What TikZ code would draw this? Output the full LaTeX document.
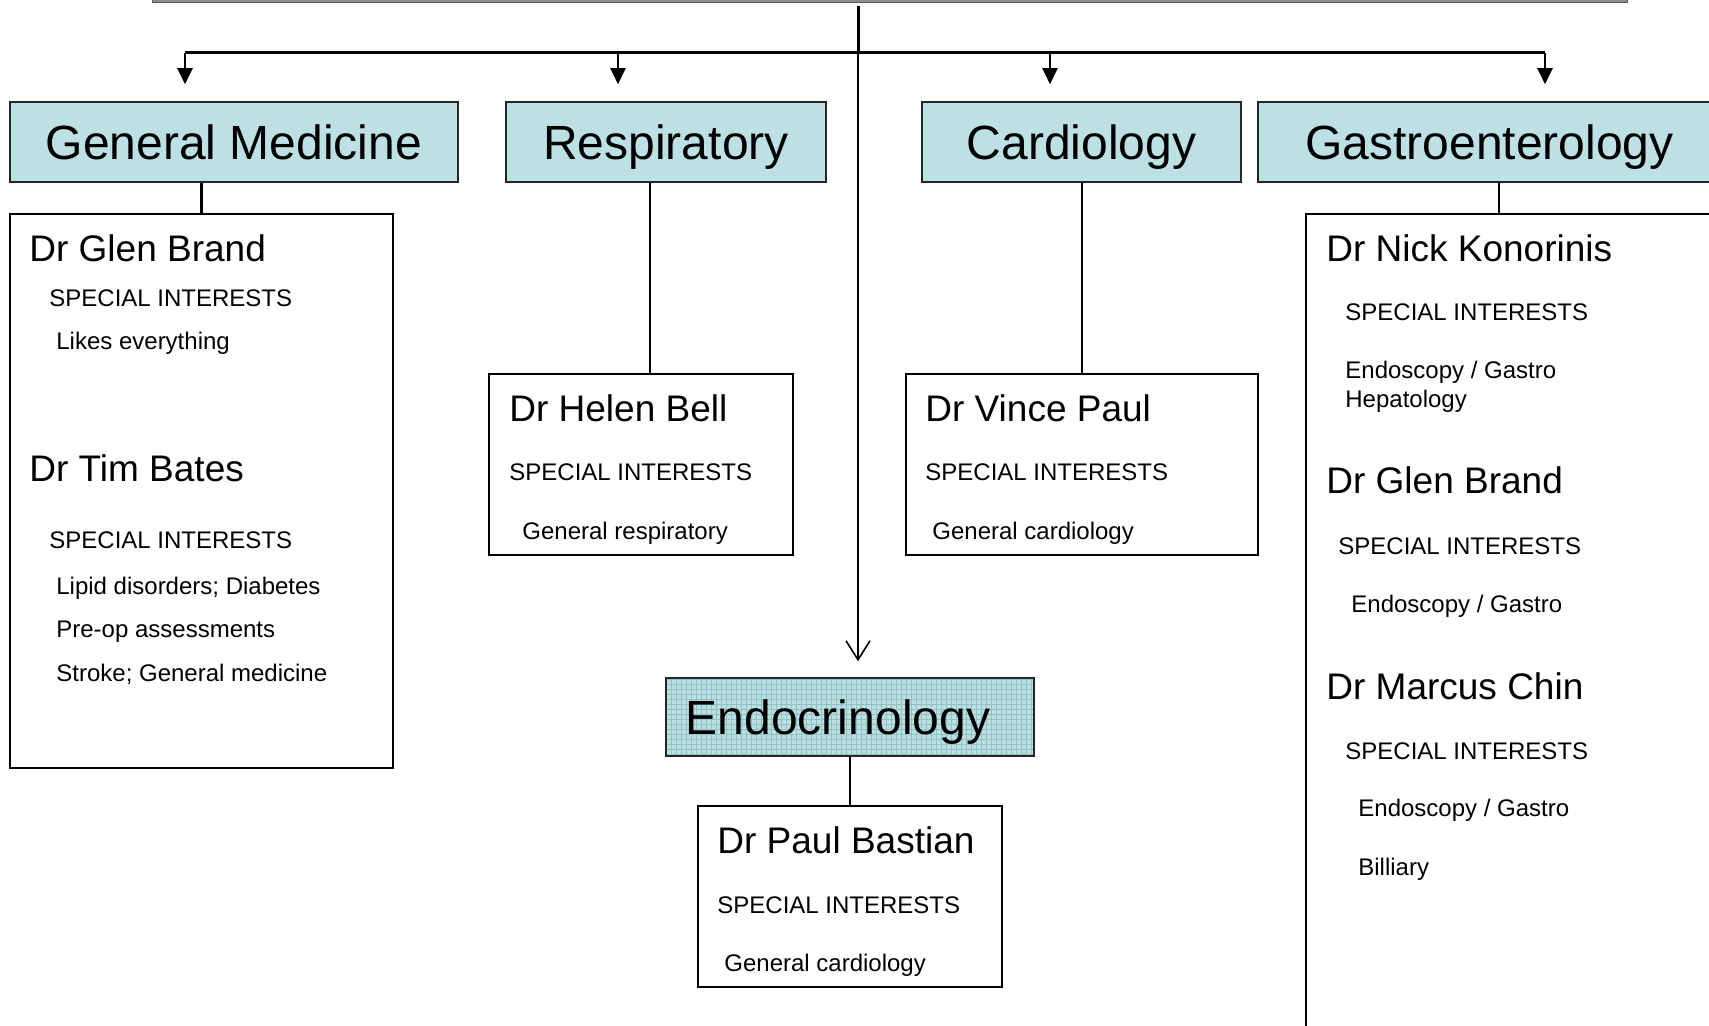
\documentclass[tikz,border=0pt]{standalone}
\usepackage{fontspec}
\setmainfont{Liberation Sans}
\usetikzlibrary{arrows.meta}
\definecolor{hdrfill}{HTML}{BCE0E3}
\definecolor{endofill}{HTML}{BDDFE2}
\definecolor{endogrid}{HTML}{8EC2C7}
\definecolor{topgray}{HTML}{8C8C8C}
\tikzset{
  hdr/.style={draw=black!85, line width=0.75pt, fill=hdrfill, inner sep=0pt,
    font=\fontsize{24}{28}\selectfont, text height=17.2pt, text depth=0pt},
  docbox/.style={draw=black, line width=1pt, inner sep=0pt},
  docname/.style={anchor=base west, inner sep=0pt, font=\fontsize{18.5}{22}\selectfont},
  small/.style={anchor=base west, inner sep=0pt, font=\fontsize{12}{14}\selectfont},
  bus/.style={line width=1.5pt},
  link/.style={line width=1.4pt},
  droparrow/.style={line width=1pt, -{Triangle[width=7.5pt,length=8pt]}, shorten >=8.5pt},
}
\begin{document}
\begin{tikzpicture}[x=0.5pt,y=-0.5pt]
\useasboundingbox (0,0) rectangle (1709,1026);
\clip (0,0) rectangle (1709,1026);
% top bar
\fill[topgray, draw=black!65, line width=0.4pt] (152,-4) rectangle (1627,2.5);

% headers
\node[hdr, minimum width=224pt, minimum height=40pt] (gm) at (234,142) {General Medicine};
\node[hdr, minimum width=160pt, minimum height=40pt] (resp) at (666,142) {Respiratory};
\node[hdr, minimum width=159.5pt, minimum height=40pt] (card) at (1081.5,142) {Cardiology};
\node[hdr, minimum width=231.5pt, minimum height=40pt] (gastro) at (1489.5,142) {Gastroenterology};
\node[hdr, minimum width=184pt, minimum height=39pt,
  path picture={
    \fill[endofill] (path picture bounding box.south west) rectangle (path picture bounding box.north east);
    \draw[endogrid, line width=0.3pt, step=2.5pt] (path picture bounding box.south west) grid (path picture bounding box.north east);
  }] (endo) at (850,717) {Endocrinology\hspace*{12pt}};

% doctor boxes
\node[docbox, minimum width=191.5pt, minimum height=277pt] (gmdoc) at (201.5,491) {};
\node[docbox, minimum width=152pt, minimum height=90.5pt] (respdoc) at (641,464.5) {};
\node[docbox, minimum width=176pt, minimum height=90.5pt] (carddoc) at (1082,464.5) {};
\node[docbox, minimum width=227pt, minimum height=423pt] (gastrodoc) at (1533,637) {};
\node[docbox, minimum width=152pt, minimum height=90.5pt] (endodoc) at (850,896.5) {};

% bus and arrows
\coordinate (top) at (858,6);
\coordinate (hub) at (858,53);
\coordinate (b1) at (185,53);
\coordinate (b2) at (618,53);
\coordinate (b3) at (1050,53);
\coordinate (b4) at (1545,53);
\draw[bus] (top) -- (hub);
\draw[bus] (b1) -- (b4);
\draw[droparrow] (b1) -- (b1 |- gm.north);
\draw[droparrow] (b2) -- (b2 |- resp.north);
\draw[droparrow] (b3) -- (b3 |- card.north);
\draw[droparrow] (b4) -- (b4 |- gastro.north);
\draw[line width=0.8pt, -{Straight Barb[length=9.5pt,width=12pt,line width=0.8pt]}, shorten >=8pt] (hub) -- (hub |- endo.north);

% header to doctor links
\draw[link] (gm.south -| gmdoc.north) -- (gmdoc.north);
\draw[link] ([xshift=-8pt]resp.south) -- ([xshift=-8pt]resp.south |- respdoc.north);
\draw[link] (card.south -| carddoc.north) -- (carddoc.north);
\draw[link] ([xshift=4.75pt]gastro.south) -- ([xshift=4.75pt]gastro.south |- gastrodoc.north);
\draw[link] (endo.south) -- (endodoc.north);

% General Medicine texts
\node[docname] (t1) at (29,262) {Dr Glen Brand};
\node[small] (t2) at (49,307) {SPECIAL INTERESTS};
\node[small] (t3) at (56,350) {Likes everything};
\node[docname] (t4) at (29,482) {Dr Tim Bates};
\node[small] (t5) at (49,549) {SPECIAL INTERESTS};
\node[small] (t6) at (56,595) {Lipid disorders; Diabetes};
\node[small] (t7) at (56,638) {Pre-op assessments};
\node[small] (t8) at (56,681) {Stroke; General medicine};

% Respiratory texts
\node[docname] (r1) at (509,422) {Dr Helen Bell};
\node[small] (r2) at (509,480.5) {SPECIAL INTERESTS};
\node[small] (r3) at (522,539) {General respiratory};

% Cardiology texts
\node[docname] (c1) at (925,422) {Dr Vince Paul};
\node[small] (c2) at (925,480.5) {SPECIAL INTERESTS};
\node[small] (c3) at (932,539) {General cardiology};

% Endocrinology texts
\node[docname] (e1) at (717,853) {Dr Paul Bastian};
\node[small] (e2) at (717,913) {SPECIAL INTERESTS};
\node[small] (e3) at (724,971) {General cardiology};

% Gastroenterology texts
\node[docname] (g1) at (1326,262) {Dr Nick Konorinis};
\node[small] (g2) at (1345,321) {SPECIAL INTERESTS};
\node[small] (g3) at (1345,379) {Endoscopy / Gastro};
\node[small] (g4) at (1345,408) {Hepatology};
\node[docname] (g5) at (1326,494) {Dr Glen Brand};
\node[small] (g6) at (1338,555) {SPECIAL INTERESTS};
\node[small] (g7) at (1351,612) {Endoscopy / Gastro};
\node[docname] (g8) at (1326,699) {Dr Marcus Chin};
\node[small] (g9) at (1345,759) {SPECIAL INTERESTS};
\node[small] (g10) at (1358,816) {Endoscopy / Gastro};
\node[small] (g11) at (1358,875) {Billiary};
\end{tikzpicture}
\end{document}
